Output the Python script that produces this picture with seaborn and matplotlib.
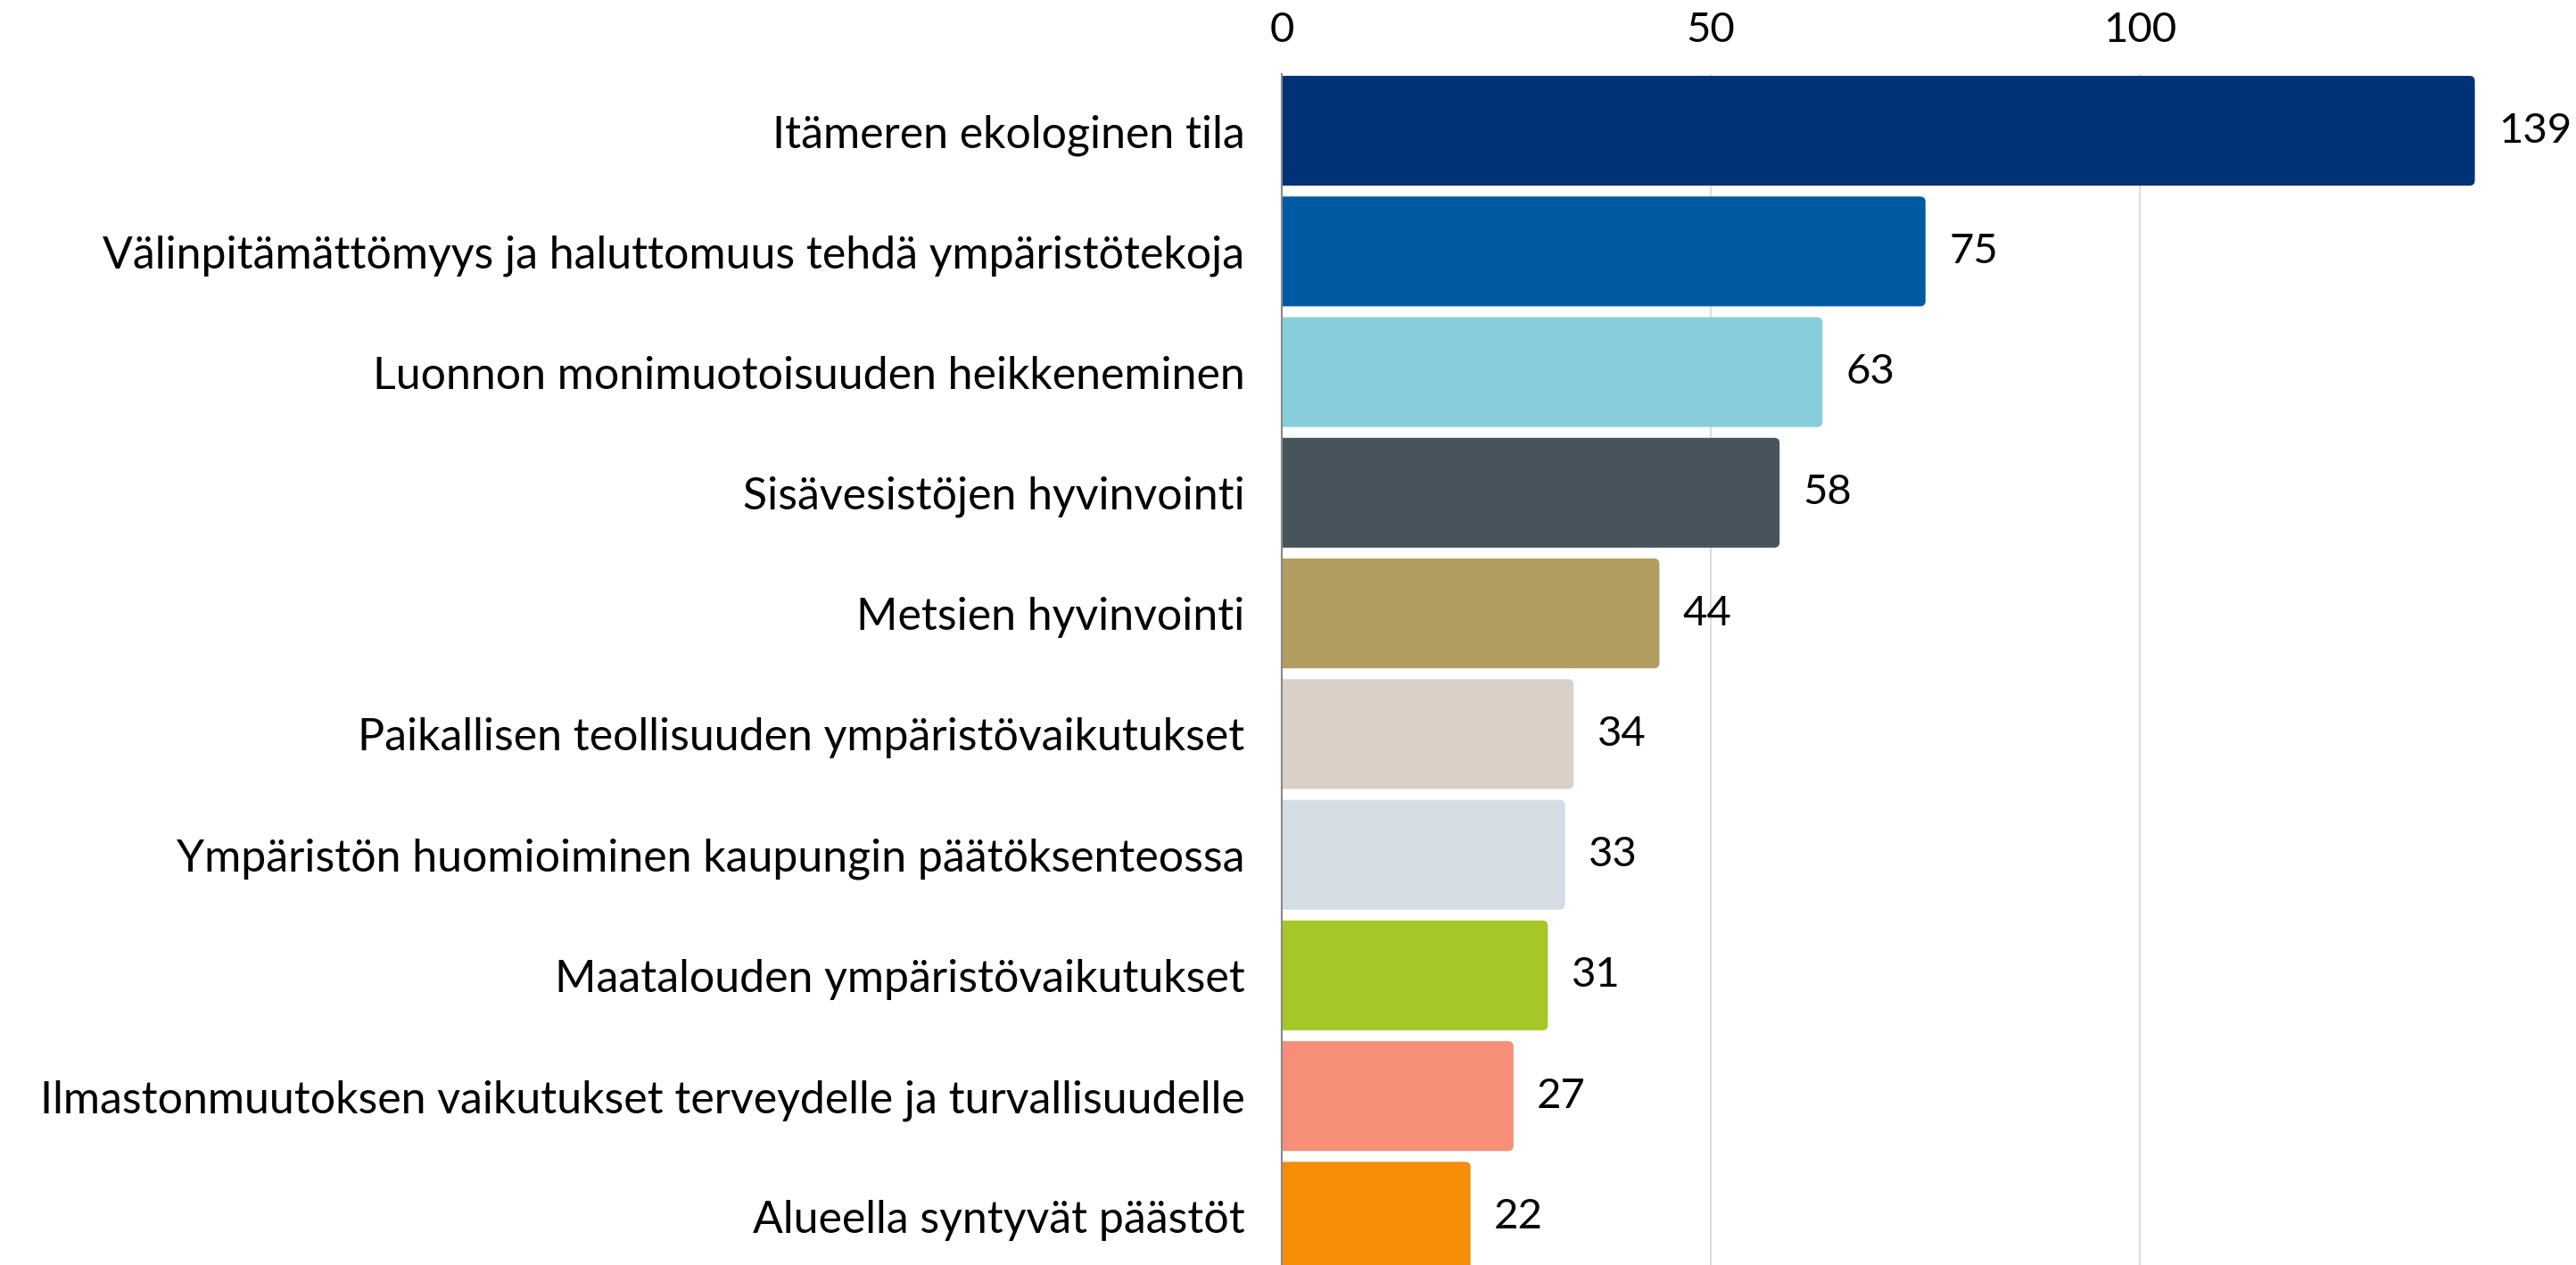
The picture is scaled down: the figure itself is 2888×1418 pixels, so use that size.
import matplotlib
matplotlib.use("Agg")
import matplotlib.pyplot as plt
import pandas as pd
import seaborn as sns
from matplotlib.patches import FancyBboxPatch

categories = [
    "Itämeren ekologinen tila",
    "Välinpitämättömyys ja haluttomuus tehdä ympäristötekoja",
    "Luonnon monimuotoisuuden heikkeneminen",
    "Sisävesistöjen hyvinvointi",
    "Metsien hyvinvointi",
    "Paikallisen teollisuuden ympäristövaikutukset",
    "Ympäristön huomioiminen kaupungin päätöksenteossa",
    "Maatalouden ympäristövaikutukset",
    "Ilmastonmuutoksen vaikutukset terveydelle ja turvallisuudelle",
    "Alueella syntyvät päästöt",
]
values = [139, 75, 63, 58, 44, 34, 33, 31, 27, 22]
colors = ["#003278", "#005AA3", "#87CDDB", "#47545B", "#B29D61",
          "#DAD0C7", "#D3DDE3", "#A5C727", "#F58F77", "#F58D08"]
x_ticks = [0, 50, 100]

df = pd.DataFrame({"kategoria": categories, "lkm": values})

sns.set_theme(style="white")
plt.rcParams["font.family"] = ["Lato", "DejaVu Sans"]

fig = plt.figure(figsize=(28.88, 14.18), dpi=100)
ax = fig.add_axes([1437 / 2888, 0.0, (2790 - 1437) / 2888, (1418 - 83) / 1418])

sns.barplot(data=df, x="lkm", y="kategoria", hue="kategoria", palette=colors,
            width=0.91, legend=False, ax=ax, saturation=1)

ax.set_xlim(0, 140.6)
ax.set_ylim(9.40, -0.47)

# pyöristetyt kulmat palkkeihin
r = 0.62
for bar in list(ax.patches):
    x0, y0 = bar.get_x(), bar.get_y()
    w, h = bar.get_width(), bar.get_height()
    fc = bar.get_facecolor()
    bar.remove()
    box = FancyBboxPatch((x0 - 2 * r, y0), w + 2 * r, h,
                         boxstyle=f"round,pad=0,rounding_size={r}",
                         mutation_aspect=0.071, facecolor=fc, edgecolor="none",
                         zorder=2)
    ax.add_patch(box)

for i, v in enumerate(values):
    ax.annotate(str(v), (v, i), xytext=(19, 0), textcoords="offset points",
                va="center", ha="left", fontsize=34, color="black",
                annotation_clip=False)

ax.xaxis.tick_top()
ax.set_xticks(x_ticks)
ax.tick_params(axis="x", length=0, pad=20, labelsize=34, colors="black")
ax.tick_params(axis="y", length=0, pad=30, labelsize=36, colors="black")
ax.set_xlabel("")
ax.set_ylabel("")
ax.grid(axis="x", color="#DDDDDD", linewidth=1.5, zorder=0)
ax.set_axisbelow(True)
sns.despine(ax=ax, top=True, right=True, bottom=True, left=False)
ax.spines["left"].set_color("#888888")
ax.spines["left"].set_linewidth(1.5)

fig.savefig("out.png", dpi=100)
